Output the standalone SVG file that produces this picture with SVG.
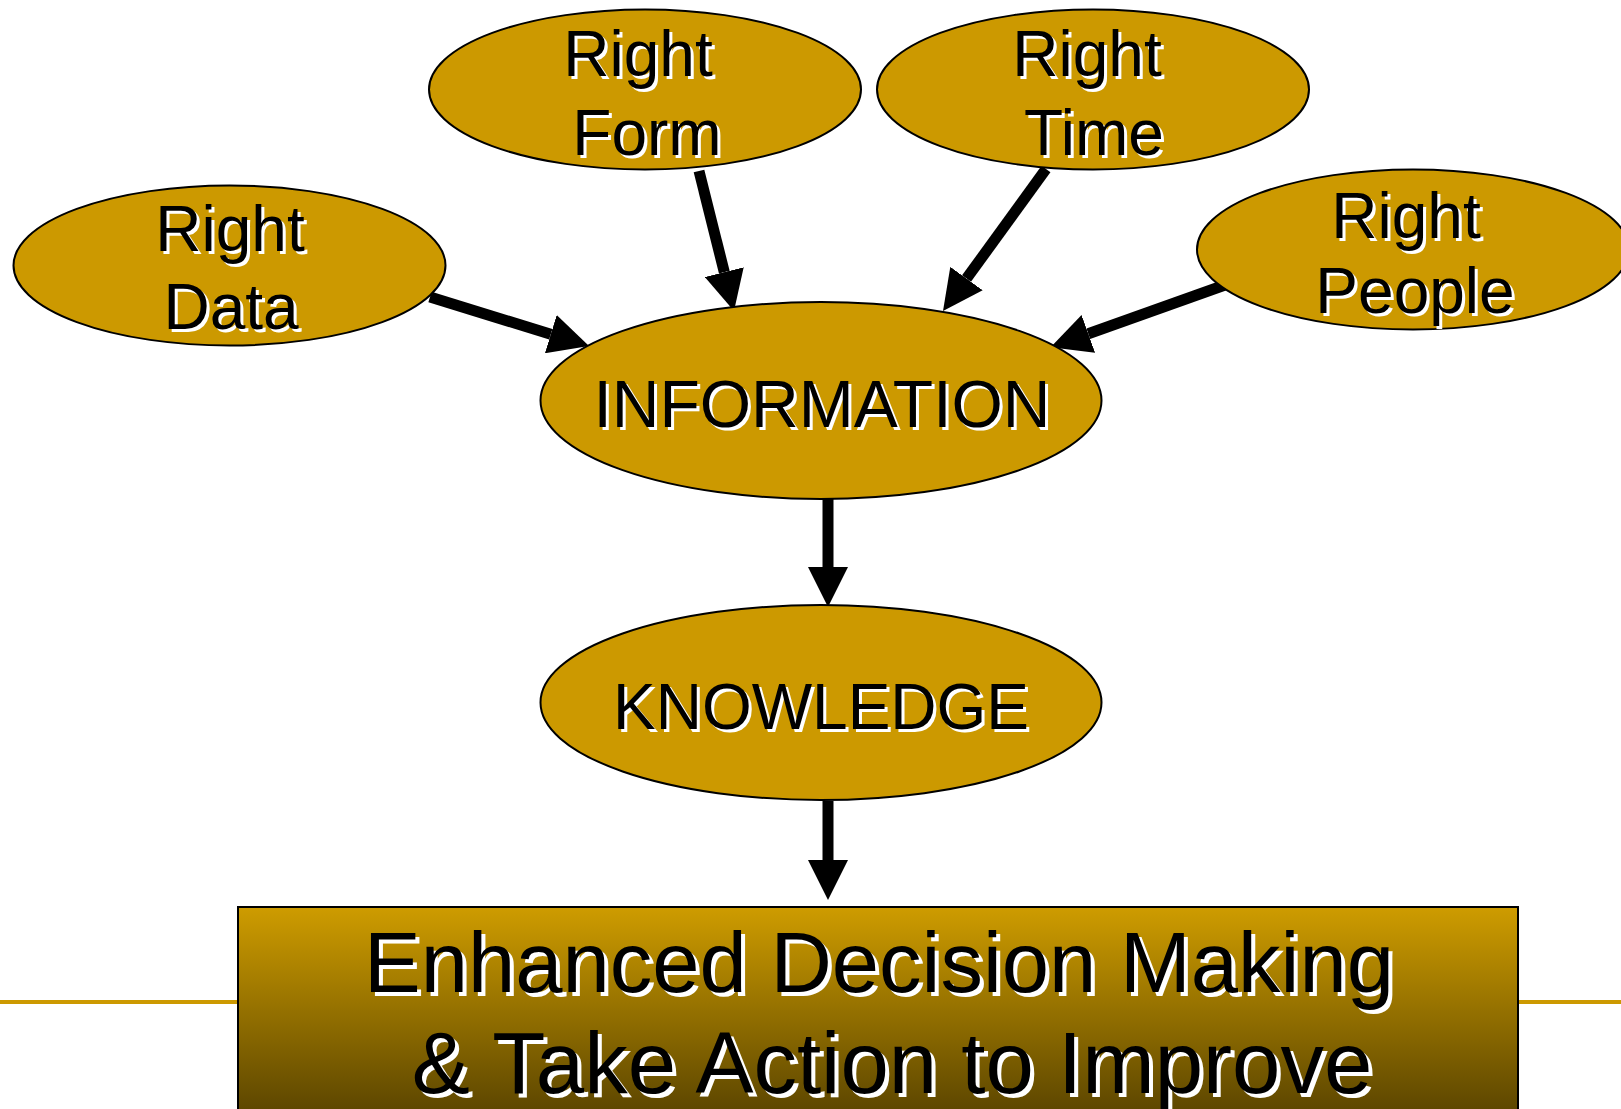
<svg xmlns="http://www.w3.org/2000/svg" width="1621" height="1109" viewBox="0 0 1621 1109">
<style>
.node{fill:#CC9900;stroke:#000;stroke-width:2}
.t{font-family:"Liberation Sans",Arial,sans-serif;text-anchor:middle}
.sh{fill:#fff}
.fg{fill:#000}
.conn{stroke:#000;stroke-width:11;fill:none;marker-end:url(#ah)}
</style>
<defs>
<marker id="ah" markerUnits="userSpaceOnUse" markerWidth="40" markerHeight="40" refX="0" refY="20" orient="auto">
<path d="M0,0 L40,20 L0,40 z" fill="#000"/>
</marker>
<linearGradient id="boxg" x1="0" y1="0" x2="0" y2="1">
<stop offset="0" stop-color="#CE9C00"/>
<stop offset="1" stop-color="#574200"/>
</linearGradient>
</defs>
<rect width="1621" height="1109" fill="#fff"/>
<line x1="0" y1="1002" x2="1621" y2="1002" stroke="#CC9900" stroke-width="4"/>

<g id="connectors">
<path class="conn" d="M430,297 L550.8,334.2"/>
<path class="conn" d="M699,171 L724.3,272.2"/>
<path class="conn" d="M1046,169 L966.5,278.6"/>
<path class="conn" d="M1225,285 L1088.3,333.8"/>
<path class="conn" d="M828,499 L828,567"/>
<path class="conn" d="M828,801 L828,860"/>
</g>

<g id="right-data">
<ellipse class="node" cx="229.5" cy="265.5" rx="216" ry="80"/>
<text class="t sh" font-size="64" x="233" y="254">Right</text>
<text class="t fg" font-size="64" x="230" y="251">Right</text>
<text class="t sh" font-size="64" x="234" y="332">Data</text>
<text class="t fg" font-size="64" x="231" y="329">Data</text>
</g>

<g id="right-form">
<ellipse class="node" cx="645" cy="89.5" rx="216" ry="80"/>
<text class="t sh" font-size="64" x="641" y="79">Right</text>
<text class="t fg" font-size="64" x="638" y="76">Right</text>
<text class="t sh" font-size="64" x="650" y="158">Form</text>
<text class="t fg" font-size="64" x="647" y="155">Form</text>
</g>

<g id="right-time">
<ellipse class="node" cx="1093" cy="89.5" rx="216" ry="80"/>
<text class="t sh" font-size="64" x="1090" y="79">Right</text>
<text class="t fg" font-size="64" x="1087" y="76">Right</text>
<text class="t sh" font-size="64" x="1097" y="158">Time</text>
<text class="t fg" font-size="64" x="1094" y="155">Time</text>
</g>

<g id="right-people">
<ellipse class="node" cx="1413" cy="249.5" rx="216" ry="80"/>
<text class="t sh" font-size="64" x="1409" y="241">Right</text>
<text class="t fg" font-size="64" x="1406" y="238">Right</text>
<text class="t sh" font-size="64" x="1418" y="316">People</text>
<text class="t fg" font-size="64" x="1415" y="313">People</text>
</g>

<g id="information">
<ellipse class="node" cx="821" cy="400.5" rx="280.5" ry="98.5"/>
<text class="t sh" font-size="66" x="825" y="430">INFORMATION</text>
<text class="t fg" font-size="66" x="822" y="427">INFORMATION</text>
</g>

<g id="knowledge">
<ellipse class="node" cx="821" cy="702.5" rx="280.5" ry="97.5"/>
<text class="t sh" font-size="64" x="824" y="732">KNOWLEDGE</text>
<text class="t fg" font-size="64" x="821" y="729">KNOWLEDGE</text>
</g>

<g id="decision">
<rect x="238" y="907" width="1280" height="215" fill="url(#boxg)" stroke="#000" stroke-width="2"/>
<text class="t sh" font-size="85" x="883" y="996">Enhanced Decision Making</text>
<text class="t fg" font-size="85" x="879" y="992">Enhanced Decision Making</text>
<text class="t sh" font-size="87" x="896" y="1097">&amp; Take Action to Improve</text>
<text class="t fg" font-size="87" x="892" y="1093">&amp; Take Action to Improve</text>
</g>
</svg>
